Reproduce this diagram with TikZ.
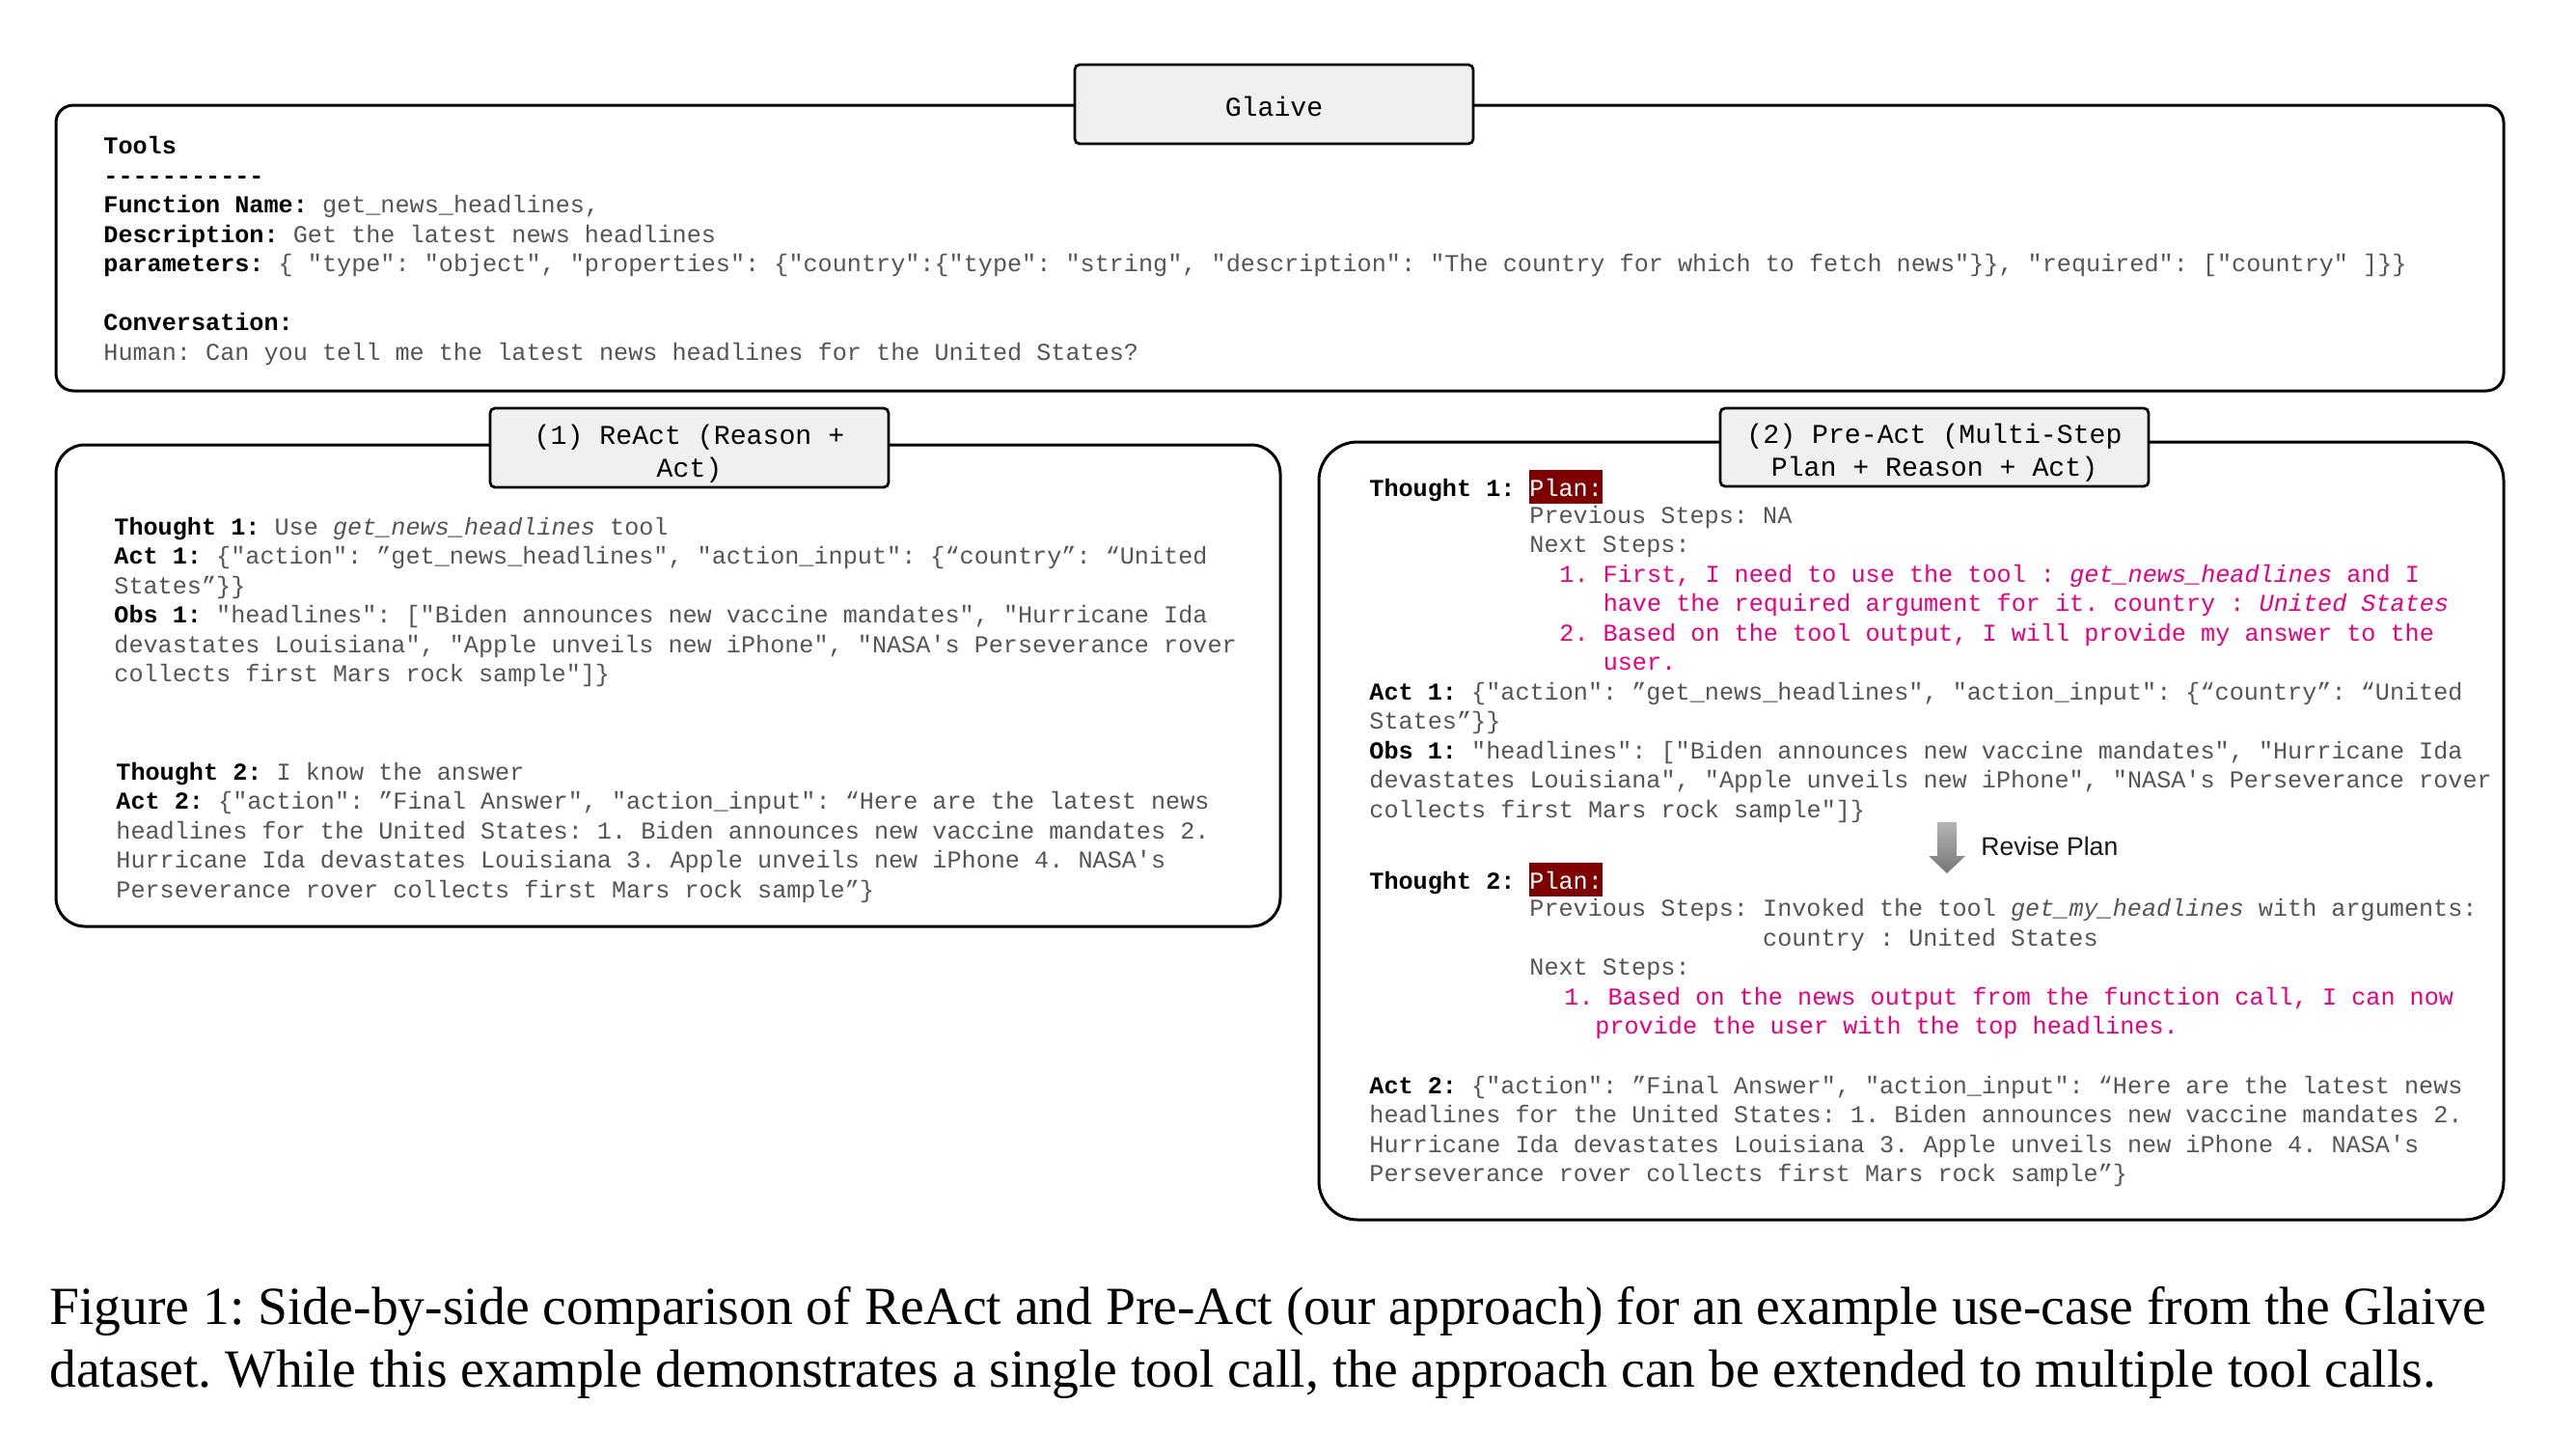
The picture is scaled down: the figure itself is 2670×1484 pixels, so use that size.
\documentclass[tikz,border=0pt]{standalone}
\usepackage{fontspec}
\setmonofont{Liberation Mono}
\newfontfamily\capfont{Liberation Serif}
\newfontfamily\revfont{Liberation Sans}
\frenchspacing
\definecolor{txtgray}{HTML}{555555}
\definecolor{pinkc}{HTML}{E6007E}
\definecolor{planred}{HTML}{7F0000}
\definecolor{titlefill}{HTML}{F0F0F0}
\definecolor{arrtopc}{HTML}{B4B4B4}
\definecolor{arrbotc}{HTML}{767676}
\newcommand{\lbl}[1]{\textcolor{black}{\bfseries #1}}
\tikzset{
  frame/.style={draw=black, line width=1.5pt, inner sep=0pt},
  titlebox/.style={draw=black, line width=1.35pt, fill=titlefill, rounded corners=2.5pt, inner sep=0pt},
  titletxt/.style={inner sep=0pt, align=center, font=\ttfamily\fontsize{14.1}{17}\selectfont},
  txt/.style={anchor=north west, inner sep=0pt, align=left, text=txtgray, yshift=10.675pt,
    font=\ttfamily\fontsize{12.59}{15.25}\selectfont, execute at begin node=\strut},
  pinktxt/.style={txt, text=pinkc},
  planbox/.style={fill=planred, text=white, inner sep=0pt, anchor=base west,
    text height=13.75pt, text depth=3.75pt, font=\ttfamily\fontsize{12.59}{15.25}\selectfont},
  lbltxt/.style={anchor=base west, inner sep=0pt, font=\ttfamily\bfseries\fontsize{12.59}{15.25}\selectfont}
}
\begin{document}
\begin{tikzpicture}[x=0.5pt, y=-0.5pt]
\useasboundingbox[fill=white] (0,0) rectangle (2670,1484);

% frames
\node[frame, rounded corners=9pt, minimum width=1268.5pt, minimum height=148pt] (glaiveframe) at (1326.5,257) {};
\node[frame, rounded corners=15pt, minimum width=634.5pt, minimum height=249.5pt] (reactframe) at (692.5,710.5) {};
\node[frame, rounded corners=20pt, minimum width=614pt, minimum height=403pt] (preactframe) at (1981,861) {};

% titles
\node[titlebox, minimum width=206.5pt, minimum height=41pt] (glaivetitle) at (1320.5,108) {};
\node[titletxt, yshift=-1pt] (glaivelabel) at (glaivetitle.center) {Glaive};
\node[titlebox, minimum width=206.5pt, minimum height=41pt] (reacttitle) at (714.5,464) {};
\node[titletxt, yshift=-3pt] (reactlabel) at (reacttitle.center) {(1) ReAct (Reason +\\Act)};
\node[titlebox, minimum width=222pt, minimum height=40.5pt] (preacttitle) at (2005,463.5) {};
\node[titletxt, yshift=-3pt] (preactlabel) at (preacttitle.center) {(2) Pre-Act (Multi-Step\\Plan + Reason + Act)};

% top box text
\node[txt] (tooltext) at (107,162.5) {\lbl{Tools}\\
\lbl{-----------}\\
\lbl{Function Name:} get\_news\_headlines,\\
\lbl{Description:} Get the latest news headlines\\
\lbl{parameters:} \{ "type": "object", "properties": \{"country":\{"type": "string", "description": "The country for which to fetch news"\}\}, "required": ["country" ]\}\}\\[15.25pt]
\lbl{Conversation:}\\
Human: Can you tell me the latest news headlines for the United States?};

% ReAct text
\node[txt] (reactone) at (118,557) {\lbl{Thought 1:} Use \textit{get\_news\_headlines} tool\\
\lbl{Act 1:} \{"action": ”get\_news\_headlines", "action\_input": \{“country”: “United\\
States”\}\}\\
\lbl{Obs 1:} "headlines": ["Biden announces new vaccine mandates", "Hurricane Ida\\
devastates Louisiana", "Apple unveils new iPhone", "NASA's Perseverance rover\\
collects first Mars rock sample"]\}};
\node[txt] (reacttwo) at (120,811) {\lbl{Thought 2:} I know the answer\\
\lbl{Act 2:} \{"action": ”Final Answer", "action\_input": “Here are the latest news\\
headlines for the United States: 1. Biden announces new vaccine mandates 2.\\
Hurricane Ida devastates Louisiana 3. Apple unveils new iPhone 4. NASA's\\
Perseverance rover collects first Mars rock sample”\}};

% Pre-Act text
\node[lbltxt] (thoughtone) at (1419,514) {Thought 1:};
\node[planbox] (planone) at (1585,514) {Plan:};
\node[txt] (prevone) at (1585,545) {Previous Steps: NA\\Next Steps:};
\node[pinktxt] (stepsone) at (1616,606) {1. First, I need to use the tool : \textit{get\_news\_headlines} and I\\
\hphantom{1. }have the required argument for it. country : \textit{United States}\\
2. Based on the tool output, I will provide my answer to the\\
\hphantom{2. }user.};
\node[txt] (actone) at (1419,728) {\lbl{Act 1:} \{"action": ”get\_news\_headlines", "action\_input": \{“country”: “United\\
States”\}\}\\
\lbl{Obs 1:} "headlines": ["Biden announces new vaccine mandates", "Hurricane Ida\\
devastates Louisiana", "Apple unveils new iPhone", "NASA's Perseverance rover\\
collects first Mars rock sample"]\}};

% revise arrow
\coordinate (arrS) at (2018,852);
\coordinate (arrE) at (2018,905);
\shade[top color=arrtopc, bottom color=arrbotc]
  ([xshift=-5pt]arrS) -- ([xshift=-5pt,yshift=9pt]arrE) -- ([xshift=-9.5pt,yshift=9pt]arrE)
  -- (arrE) -- ([xshift=9.5pt,yshift=9pt]arrE) -- ([xshift=5pt,yshift=9pt]arrE)
  -- ([xshift=5pt]arrS) -- cycle;
\node[anchor=base west, inner sep=0pt, font=\revfont\fontsize{13.3}{15}\selectfont, text=black!90] (revise) at (2053,886) {Revise Plan};

\node[lbltxt] (thoughttwo) at (1419,921.5) {Thought 2:};
\node[planbox] (plantwo) at (1585,921.5) {Plan:};
\node[txt] (prevtwo) at (1585,952.5) {Previous Steps: Invoked the tool \textit{get\_my\_headlines} with arguments:\\
\hphantom{Previous Steps: }country : United States\\
Next Steps:};
\node[pinktxt] (stepstwo) at (1621,1044) {1. Based on the news output from the function call, I can now\\
\hspace*{16pt}provide the user with the top headlines.};
\node[txt] (acttwo) at (1419,1136) {\lbl{Act 2:} \{"action": ”Final Answer", "action\_input": “Here are the latest news\\
headlines for the United States: 1. Biden announces new vaccine mandates 2.\\
Hurricane Ida devastates Louisiana 3. Apple unveils new iPhone 4. NASA's\\
Perseverance rover collects first Mars rock sample”\}};

% caption
\node[anchor=north west, inner sep=0pt, align=left, yshift=22.75pt,
  font=\capfont\fontsize{27.8}{32.5}\selectfont, execute at begin node=\strut] (caption) at (51,1378)
  {Figure 1: Side-by-side comparison of ReAct and Pre-Act (our approach) for an example use-case from the Glaive\\
  dataset. While this example demonstrates a single tool call, the approach can be extended to multiple tool calls.};
\end{tikzpicture}
\end{document}
